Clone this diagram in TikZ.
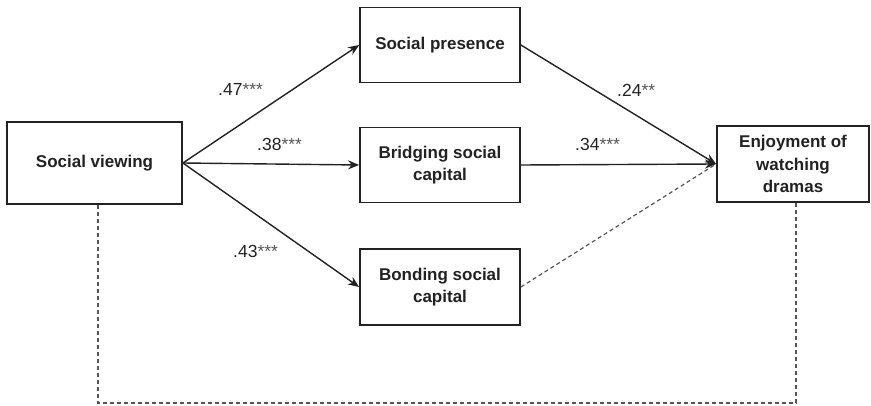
\documentclass[tikz,border=0pt]{standalone}
\usepackage{fontspec}
\setmainfont{Liberation Sans}
\usetikzlibrary{arrows.meta}
\definecolor{ink}{HTML}{222222}
\definecolor{dash}{HTML}{555555}
\definecolor{star}{HTML}{555555}
\tikzset{
  box/.style={draw=ink, line width=1.8pt, fill=white, inner sep=0pt, align=center,
    text=ink, font={\fontsize{17}{21.5}\selectfont\bfseries}},
  arr/.style={draw=ink, line width=1.4pt, -{Stealth[length=11pt,width=9pt]}},
  dashln/.style={draw=dash, line width=1.2pt, dash pattern=on 4pt off 3pt},
  coef/.style={text=ink, font={\fontsize{17.5}{20}\selectfont}, inner sep=0pt}
}
\newcommand{\stars}[1]{\textcolor{star}{#1}}
\begin{document}
\begin{tikzpicture}[x=1pt,y=-1pt]
\useasboundingbox (0,0) rectangle (871,406);
\node[box, minimum width=175pt, minimum height=82pt] (sv) at (94.5,163) {Social viewing};
\node[box, minimum width=160pt, minimum height=75pt] (sp) at (440,45) {Social presence};
\node[box, minimum width=160pt, minimum height=75pt] (br) at (440,165) {Bridging social\\capital};
\node[box, minimum width=160pt, minimum height=76pt] (bo) at (440,287) {Bonding social\\capital};
\node[box, minimum width=152pt, minimum height=76pt, font={\fontsize{17}{22.5}\selectfont\bfseries}] (en) at (793,164) {Enjoyment of\\watching\\dramas};

\draw[arr] (sv.east) -- (sp.west);
\draw[arr] (sv.east) -- (br.west);
\draw[arr] (sv.east) -- (bo.west);
\draw[arr] (sp.east) -- (en.west);
\draw[arr] (br.east) -- (en.west);
\draw[dashln] (bo.east) -- (en.west);

\coordinate (d1) at (98,403);
\coordinate (d2) at (796,403);
\draw[dashln] (sv.south -| d1) -- (d1) -- (d2) -- (en.south -| d2);

\node[coef, anchor=west] (c1) at (218,89) {.47\stars{***}};
\node[coef, anchor=west] (c2) at (257,144) {.38\stars{***}};
\node[coef, anchor=west] (c3) at (233,251) {.43\stars{***}};
\node[coef, anchor=west] (c4) at (617,90) {.24\stars{**}};
\node[coef, anchor=west] (c5) at (575,144) {.34\stars{***}};
\end{tikzpicture}
\end{document}
